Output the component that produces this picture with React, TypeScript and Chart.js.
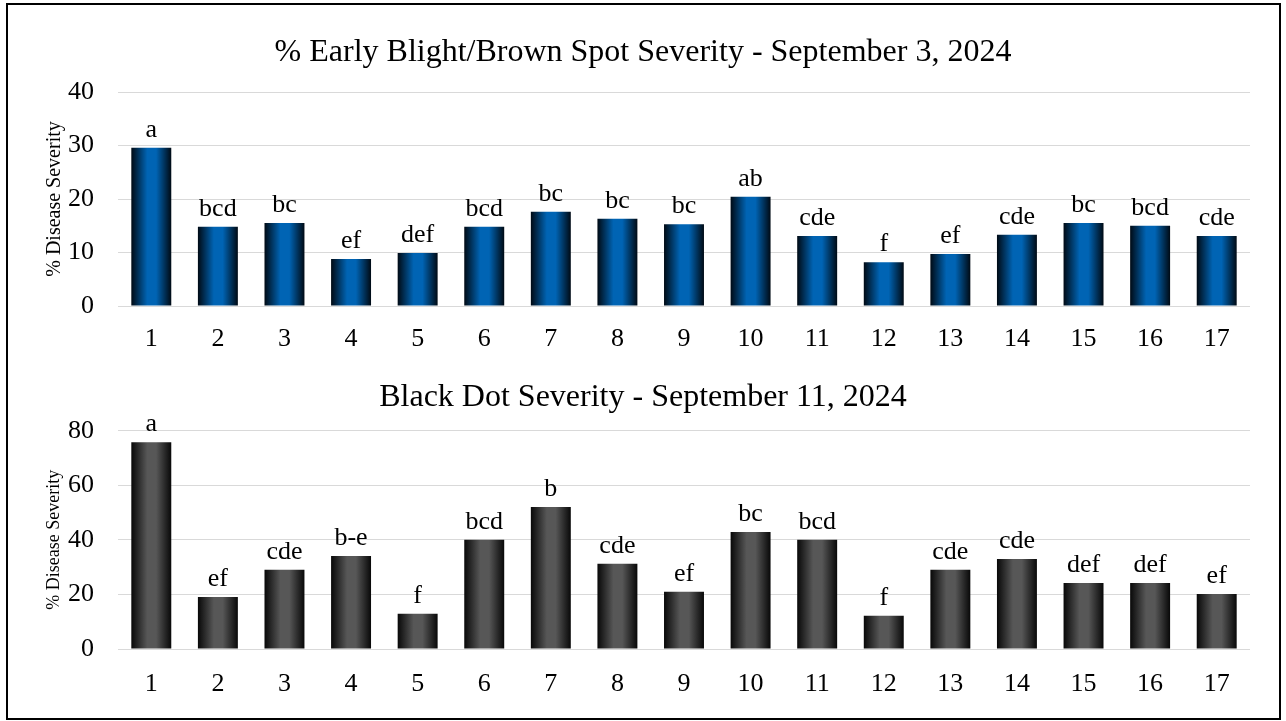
import React, { useEffect, useRef } from "react";
import { Chart, registerables } from "chart.js";

Chart.register(...registerables);

const categories = ["1", "2", "3", "4", "5", "6", "7", "8", "9", "10", "11", "12", "13", "14", "15", "16", "17"];

const blightTitle = "% Early Blight/Brown Spot Severity - September 3, 2024";
const blightValues = [29.6, 14.8, 15.5, 8.8, 9.9, 14.8, 17.6, 16.3, 15.3, 20.4, 13.1, 8.2, 9.7, 13.3, 15.5, 15.0, 13.1];
const blightLetters = ["a", "bcd", "bc", "ef", "def", "bcd", "bc", "bc", "bc", "ab", "cde", "f", "ef", "cde", "bc", "bcd", "cde"];
const blightTicks = [0, 10, 20, 30, 40];

const blackDotTitle = "Black Dot Severity - September 11, 2024";
const blackDotValues = [75.8, 19.1, 29.0, 34.1, 12.9, 40.0, 52.0, 31.2, 21.0, 42.9, 40.0, 12.2, 29.0, 33.0, 24.2, 24.2, 20.2];
const blackDotLetters = ["a", "ef", "cde", "b-e", "f", "bcd", "b", "cde", "ef", "bc", "bcd", "f", "cde", "cde", "def", "def", "ef"];
const blackDotTicks = [0, 20, 40, 60, 80];

const yAxisTitle = "% Disease Severity";
const FONT = '"Liberation Serif", "Times New Roman", serif';

const letterPlugin = {
  id: "letters",
  afterDatasetsDraw(chart: any, _args: any, opts: any) {
    const meta = chart.getDatasetMeta(0);
    const ctx = chart.ctx;
    ctx.save();
    ctx.font = `${opts.size}px ${FONT}`;
    ctx.fillStyle = "#000";
    ctx.textAlign = "center";
    ctx.textBaseline = "alphabetic";
    meta.data.forEach((el: any, i: number) => {
      ctx.fillText(opts.letters[i], el.x, el.y - opts.gap);
    });
    ctx.restore();
  },
};

type PanelProps = {
  title: string;
  values: number[];
  letters: string[];
  ticks: number[];
  edge: string;
  mid: string;
  top: number;
  height: number;
  titlePad: { top: number; bottom: number };
  xAxisHeight: number;
  xPad: number;
  axisTitleSize: number;
};

function Panel(p: PanelProps) {
  const ref = useRef<HTMLCanvasElement | null>(null);
  useEffect(() => {
    if (!ref.current) return;
    const step = p.ticks[1] - p.ticks[0];
    const max = p.ticks[p.ticks.length - 1];
    const chart = new Chart(ref.current, {
      type: "bar",
      data: {
        labels: categories,
        datasets: [
          {
            data: p.values,
            backgroundColor: (c: any) => {
              const ch = c.chart;
              const xs = ch.scales && ch.scales.x;
              const area = ch.chartArea;
              if (!xs || !area) return p.mid;
              const cx = xs.getPixelForValue(c.dataIndex);
              const w = ((area.right - area.left) / categories.length) * 0.6;
              const g = ch.ctx.createLinearGradient(cx - w / 2, 0, cx + w / 2, 0);
              g.addColorStop(0, p.edge);
              g.addColorStop(0.4, p.mid);
              g.addColorStop(0.62, p.mid);
              g.addColorStop(1, p.edge);
              return g;
            },
            borderWidth: 0,
            categoryPercentage: 1,
            barPercentage: 0.6,
          },
        ],
      },
      options: {
        responsive: false,
        animation: false,
        layout: { padding: { left: 28, right: 28, top: 0, bottom: 0 } },
        plugins: {
          legend: { display: false },
          tooltip: { enabled: false },
          title: {
            display: true,
            text: p.title,
            color: "#000",
            font: { family: FONT, size: 32, weight: "normal" as any },
            padding: p.titlePad,
          },
          letters: { letters: p.letters, size: 26, gap: 11 },
        } as any,
        scales: {
          x: {
            grid: { display: false },
            border: { display: false },
            ticks: { color: "#000", font: { family: FONT, size: 26 }, padding: p.xPad },
            afterFit: (s: any) => {
              s.height = p.xAxisHeight;
            },
          },
          y: {
            min: 0,
            max,
            grid: { color: "#d9d9d9", lineWidth: 1, drawTicks: false },
            border: { display: false },
            ticks: { stepSize: step, color: "#000", font: { family: FONT, size: 26 }, padding: 24 },
            title: {
              display: true,
              text: yAxisTitle,
              color: "#000",
              font: { family: FONT, size: p.axisTitleSize },
              padding: { top: 7, bottom: 0 },
            },
            afterFit: (s: any) => {
              s.width = 82;
            },
          },
        },
      },
      plugins: [letterPlugin as any],
    });
    return () => chart.destroy();
  }, []);
  return (
    <canvas
      ref={ref}
      width={1270}
      height={p.height}
      style={{ position: "absolute", left: 8, top: p.top, display: "block" }}
    />
  );
}

export default function App() {
  return (
    <div style={{ position: "absolute", left: 0, top: 0, width: 1286, height: 721, background: "#fff" }}>
      <div
        style={{
          position: "absolute",
          left: 6,
          top: 3,
          width: 1275,
          height: 717,
          boxSizing: "border-box",
          border: "2px solid #000",
        }}
      />
      <Panel
        title={blightTitle}
        values={blightValues}
        letters={blightLetters}
        ticks={blightTicks}
        edge="#000a14"
        mid="#0064b4"
        top={5}
        height={360}
        titlePad={{ top: 28.8, bottom: 19.8 }}
        xAxisHeight={59}
        xPad={10}
        axisTitleSize={20}
      />
      <Panel
        title={blackDotTitle}
        values={blackDotValues}
        letters={blackDotLetters}
        ticks={blackDotTicks}
        edge="#080808"
        mid="#575757"
        top={365}
        height={353}
        titlePad={{ top: 13.8, bottom: 13.5 }}
        xAxisHeight={69}
        xPad={12}
        axisTitleSize={18}
      />
    </div>
  );
}
